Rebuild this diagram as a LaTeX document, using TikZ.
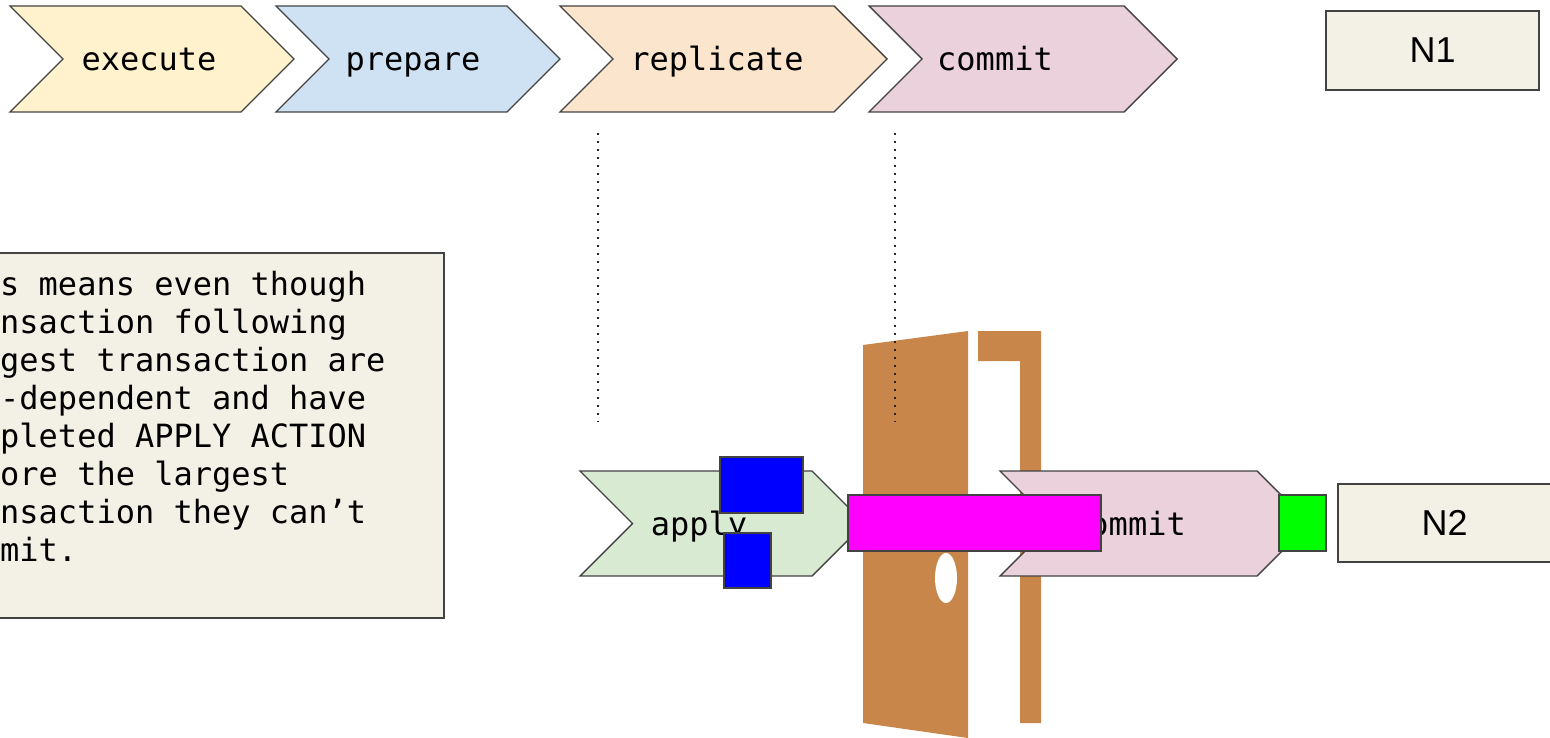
\documentclass[tikz,border=0pt]{standalone}
\usepackage{fontspec}
\newfontfamily\stepmono{DejaVu Sans Mono}
\newfontfamily\nodesans{Liberation Sans}
\definecolor{edge}{HTML}{434343}
\definecolor{execfill}{HTML}{FFF2CC}
\definecolor{prepfill}{HTML}{CFE2F3}
\definecolor{replfill}{HTML}{FCE5CD}
\definecolor{commfill}{HTML}{EAD1DC}
\definecolor{applyfill}{HTML}{D9EAD3}
\definecolor{notefill}{HTML}{F3F1E6}
\definecolor{doorbrown}{HTML}{C8864A}
\definecolor{pureblue}{HTML}{0000FF}
\definecolor{puremagenta}{HTML}{FF00FF}
\definecolor{puregreen}{HTML}{00FF00}

\tikzset{
  outline/.style={draw=edge, line width=1.4pt, line join=miter},
  steplabel/.style={font=\stepmono\fontsize{32}{38}\selectfont, anchor=base, inner sep=0pt},
  notetext/.style={font=\stepmono\fontsize{32}{38}\selectfont, anchor=base west, inner sep=0pt},
  nodebox/.style={outline, fill=notefill, minimum width=213pt, inner sep=0pt,
                  font=\nodesans\fontsize{36}{40}\selectfont},
  dotline/.style={draw=black!85, line width=2pt, dash pattern=on 2pt off 6pt},
  marker/.style={outline, line width=1.3pt},
}

% chevron: left x, top y, top-right x, height, fill colour
\newcommand\chevronpath[5]{%
  \path[outline, fill=#5] (#1,#2) -- (#3,#2) -- ++({#4/2},{#4/2}) -- (#3,{#2+#4})
    -- (#1,{#2+#4}) -- ++({#4/2},{-#4/2}) -- cycle;}

\begin{document}
\begin{tikzpicture}[x=1pt, y=-1pt]
  \clip (0,0) rectangle (1550,738);
  \fill[white] (0,0) rectangle (1550,738);

  % pipeline of node N1
  \chevronpath{10}{6}{241}{106}{execfill}
  \chevronpath{276}{6}{507}{106}{prepfill}
  \chevronpath{560}{6}{834}{106}{replfill}
  \chevronpath{869}{6}{1124}{106}{commfill}
  \node[steplabel] (lexec) at (149,71) {execute};
  \node[steplabel] (lprep) at (413,71) {prepare};
  \node[steplabel] (lrepl) at (717,71) {replicate};
  \node[steplabel] (lcomm) at (995,71) {commit};
  \node[nodebox, minimum height=79pt] (n1) at (1432.5,50.5) {N1};

  % explanatory note
  \path[outline, fill=notefill] (-10,253) rectangle (444,618);
  \foreach \ln [count=\i from 0] in {%
      s means even though,
      nsaction following,
      gest transaction are,
      -dependent and have,
      pleted APPLY ACTION,
      ore the largest,
      nsaction they can’t,
      mit.}
    \node[notetext] (note\i) at (0,{295+38*\i}) {\ln};

  % door
  \fill[doorbrown] (863,345) -- (968,331) -- (968,738) -- (863,723) -- cycle;
  \fill[doorbrown] (978,331) -- (1041,331) -- (1041,723) -- (1020,723)
    -- (1020,361) -- (978,361) -- cycle;
  \fill[white] (946,578) ellipse [x radius=11, y radius=25];

  % dotted guides
  \coordinate (ga) at (598,133);
  \coordinate (gb) at (598,422);
  \coordinate (gc) at (895,133);
  \coordinate (gd) at (895,422);
  \draw[dotline] (ga) -- (gb);
  \draw[dotline] (gc) -- (gd);

  % pipeline of node N2
  \chevronpath{580}{471}{812}{105}{applyfill}
  \node[steplabel] (lapply) at (699,535) {apply};
  \chevronpath{1000}{471}{1257}{105}{commfill}
  \node[steplabel] (lcomm2) at (1128,535) {commit};

  \path[marker, fill=puremagenta] (848,495) rectangle (1101,551);
  \path[marker, fill=pureblue] (720,457) rectangle (803,513);
  \path[marker, fill=pureblue] (724,533) rectangle (771,588);
  \path[marker, fill=puregreen] (1279,495) rectangle (1326,551);

  \node[nodebox, minimum height=78pt] (n2) at (1444.5,523) {N2};
\end{tikzpicture}
\end{document}
